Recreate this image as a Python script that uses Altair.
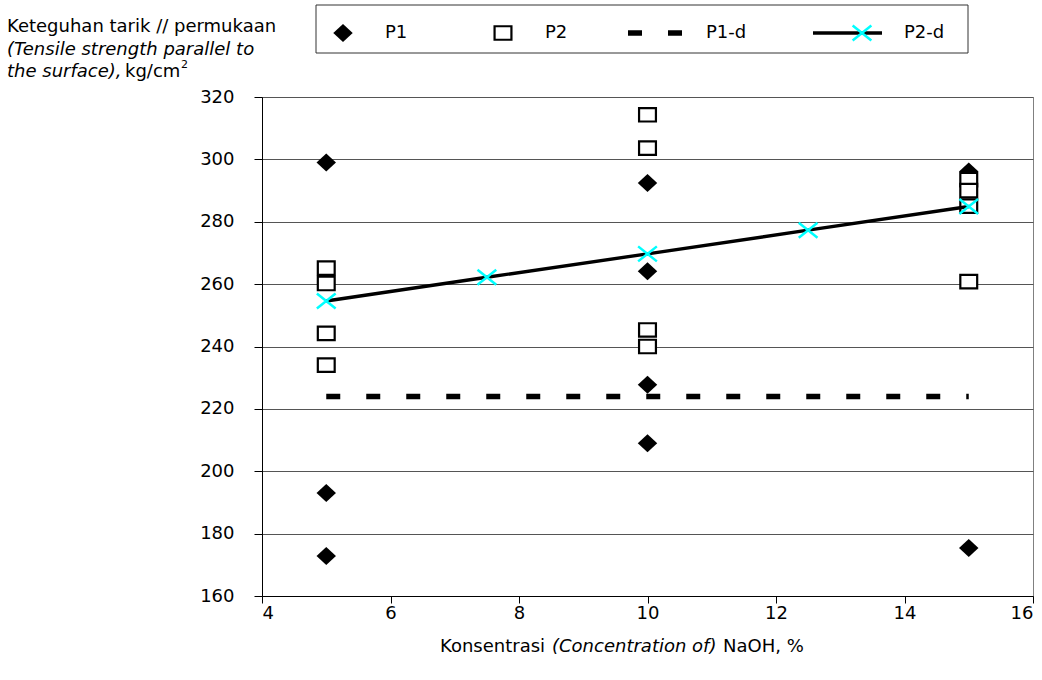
import altair as alt
import pandas as pd

# NaOH concentration (%) vs. tensile strength parallel to the surface (kg/cm2)
p1_conc = [5, 5, 5, 10, 10, 10, 10, 15, 15]
p1_strength = [299.0, 193.0, 172.8, 292.4, 264.1, 227.7, 209.0, 296.1, 175.4]

p2_conc = [5, 5, 5, 5, 10, 10, 10, 10, 15, 15, 15, 15]
p2_strength = [265.1, 260.2, 244.2, 234.0, 314.3, 303.6, 245.3, 240.0,
               293.5, 290.0, 285.0, 260.8]

p1d_conc = [5, 15]
p1d_strength = [224.0, 224.0]

p2d_conc = [5, 7.5, 10, 12.5, 15]
p2d_strength = [254.6, 262.2, 269.7, 277.3, 284.9]

x_ticks = [4, 6, 8, 10, 12, 14, 16]
y_ticks = [160, 180, 200, 220, 240, 260, 280, 300, 320]
legend_labels = ["P1", "P2", "P1-d", "P2-d"]

FONT = "DejaVu Sans"
DIAMOND = "M0,-1L1.08,0L0,1L-1.08,0Z"
BOX = "M-1.25,-1H1.25V1H-1.25Z"
XMARK = "M-1.25,-1L1.25,1M1.25,-1L-1.25,1"
CYAN = "#00FFFF"

p1 = pd.DataFrame({"conc": p1_conc, "strength": p1_strength})
p2 = pd.DataFrame({"conc": p2_conc, "strength": p2_strength})
p1d = pd.DataFrame({"conc": p1d_conc, "strength": p1d_strength})
p2d = pd.DataFrame({"conc": p2d_conc, "strength": p2d_strength})

xscale = alt.Scale(domain=[4, 16], nice=False, zero=False)
yscale = alt.Scale(domain=[160, 320], nice=False, zero=False)
xaxis = alt.Axis(values=x_ticks, grid=False, tickSize=7, labelPadding=1,
                 title=None, labelAngle=0)
yaxis = alt.Axis(values=y_ticks, grid=True, gridColor="#555555", tickSize=8,
                 labelPadding=20, title=None)


def xy():
    return dict(
        x=alt.X("conc:Q", scale=xscale, axis=xaxis),
        y=alt.Y("strength:Q", scale=yscale, axis=yaxis),
    )


p1_layer = alt.Chart(p1).mark_point(
    shape=DIAMOND, size=324, filled=True, fill="black", stroke="black",
    strokeWidth=0, opacity=1
).encode(**xy())

p2_layer = alt.Chart(p2).mark_point(
    shape=BOX, size=182, filled=True, fill="white", stroke="black",
    strokeWidth=2.2, opacity=1
).encode(**xy())

p1d_layer = alt.Chart(p1d).mark_line(
    color="black", strokeWidth=5.5, strokeDash=[14, 26], strokeCap="butt"
).encode(**xy())

p2d_line = alt.Chart(p2d).mark_line(
    color="black", strokeWidth=3.4
).encode(**xy())

p2d_marks = alt.Chart(p2d).mark_point(
    shape=XMARK, size=225, filled=False, stroke=CYAN, strokeWidth=2.5, opacity=1
).encode(**xy())

one = alt.Data(values=[{}])


def text(s, x, y, italic=False, size=18, align="left", baseline="alphabetic"):
    return alt.Chart(one).mark_text(
        text=s, font=FONT, fontSize=size, fontStyle="italic" if italic else "normal",
        align=align, baseline=baseline, color="black"
    ).encode(x=alt.value(x), y=alt.value(y))


# Legend box across the top
legend_box = alt.Chart(one).mark_rect(
    fill="white", stroke="#333333", strokeWidth=1
).encode(x=alt.value(54), x2=alt.value(706), y=alt.value(-92), y2=alt.value(-44))

ly = -64
leg_p1 = alt.Chart(one).mark_point(
    shape=DIAMOND, size=324, filled=True, fill="black", strokeWidth=0, opacity=1
).encode(x=alt.value(81), y=alt.value(ly))
leg_p2 = alt.Chart(one).mark_point(
    shape=BOX, size=182, filled=True, fill="white", stroke="black",
    strokeWidth=2.2, opacity=1
).encode(x=alt.value(241), y=alt.value(ly))
leg_p1d = alt.Chart(one).mark_rule(
    color="black", strokeWidth=5.5, strokeDash=[14, 26], strokeCap="butt"
).encode(x=alt.value(366), x2=alt.value(420), y=alt.value(ly))
leg_p2d_line = alt.Chart(one).mark_rule(
    color="black", strokeWidth=3.4
).encode(x=alt.value(551), x2=alt.value(620), y=alt.value(ly))
leg_p2d_mark = alt.Chart(one).mark_point(
    shape=XMARK, size=225, filled=False, stroke=CYAN, strokeWidth=2.5, opacity=1
).encode(x=alt.value(600), y=alt.value(ly))

leg_texts = [
    text(legend_labels[0], 123, ly, baseline="middle"),
    text(legend_labels[1], 283, ly, baseline="middle"),
    text(legend_labels[2], 444, ly, baseline="middle"),
    text(legend_labels[3], 642, ly, baseline="middle"),
]

# Y-axis title in the top-left corner
y_title = [
    text("Keteguhan tarik // permukaan", -255, -65),
    text("(Tensile strength parallel to", -255, -42.5, italic=True),
    text("the surface),", -255, -20.5, italic=True),
    text("kg/cm", -137, -20.5),
    text("2", -81, -29, size=11),
]

# X-axis title
x_title = [
    text("Konsentrasi", 178, 555),
    text("(Concentration of)", 290, 555, italic=True),
    text("NaOH, %", 461, 555),
]

chart = alt.layer(
    p1_layer, p2_layer, p1d_layer, p2d_line, p2d_marks,
    legend_box, leg_p1, leg_p2, leg_p1d, leg_p2d_line, leg_p2d_mark,
    *leg_texts, *y_title, *x_title
).properties(
    width=771,
    height=499,
    autosize=alt.AutoSizeParams(type="none"),
    padding={"left": 262, "top": 97, "right": 9, "bottom": 84},
    background="white",
).configure_view(
    stroke="#808080", strokeWidth=1
).configure_axis(
    domainColor="black", tickColor="black", labelColor="black",
    labelFont=FONT, labelFontSize=18, domainWidth=1, tickWidth=1, gridWidth=1
)

chart.save("out.html", embed_options={"renderer": "svg", "actions": False})
